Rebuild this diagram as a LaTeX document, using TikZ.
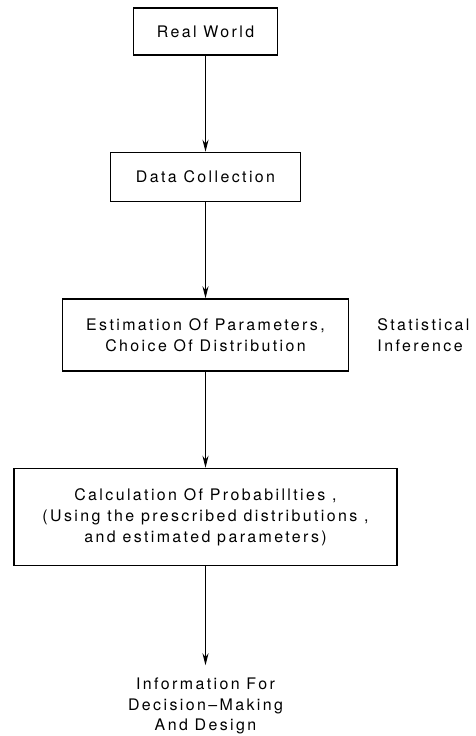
\documentclass[tikz,border=0pt]{standalone}
\usepackage{fontspec}
\setmainfont{TeX Gyre Heros}[LetterSpace=15]
\usetikzlibrary{arrows.meta, positioning}
\tikzstyle{arrow} = [line width=1.2bp,-{Stealth[length=12bp,width=6bp]}]

\begin{document}
\begin{tikzpicture}[
        x=1bp, y=-1bp,
        node distance=96bp,
        align=center,
        font=\fontsize{16}{21}\selectfont,
        box/.style={draw, line width=1.5bp, inner sep=0pt}
    ]
        \useasboundingbox (0,0) rectangle (476,736);

        % Boxes, top to bottom
        \node[box, minimum width=144bp, minimum height=47bp] (real) at (205.5,31.5) {Real World};
        \node[box, below=of real, minimum width=190bp, minimum height=49bp] (data) {Data Collection};
        \node[box, below=of data, minimum width=286bp, minimum height=72bp] (estim) {Estimation Of Parameters,\\Choice Of Distribution};
        \node[box, below=of estim, minimum width=383bp, minimum height=97bp] (calc) {Calculation Of Probabillties ,\\(Using the prescribed distributions ,\\and estimated parameters)};
        \node[below=99bp of calc, inner xsep=0pt, inner ysep=12bp] (info) {Information For\\Decision--Making\\And Design};

        % Side label
        \node[right=28bp of estim, align=left, inner sep=0pt] (infer) {Statistical\\Inference};

        % Arrows
        \draw[arrow] (real) -- (data);
        \draw[arrow] (data) -- (estim);
        \draw[arrow] (estim) -- (calc);
        \draw[arrow] (calc) -- (info);
\end{tikzpicture}
\end{document}
